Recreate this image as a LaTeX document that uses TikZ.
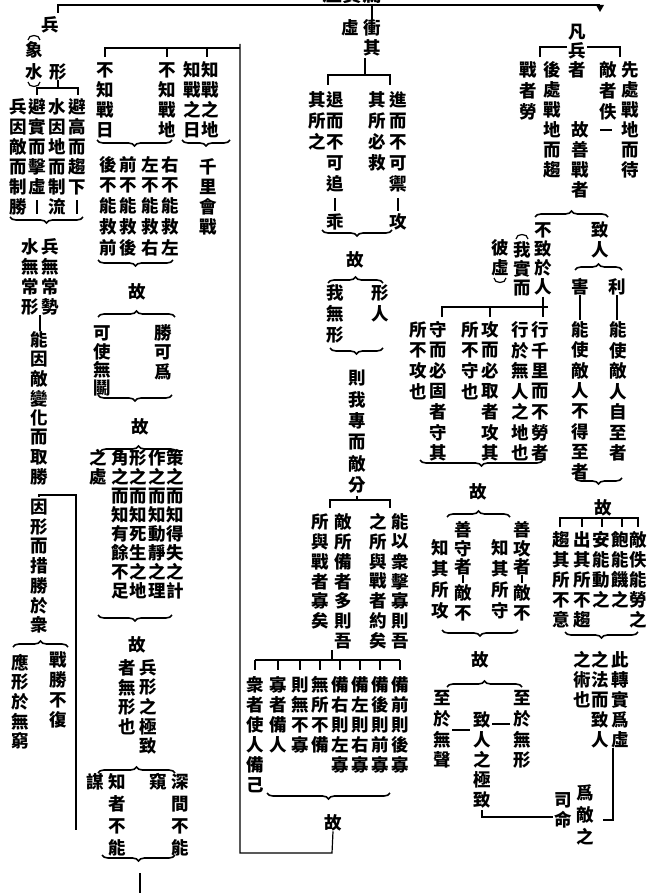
\documentclass[tikz,border=0pt]{standalone}
\usepackage{fontspec}
\setmainfont{Noto Sans CJK TC}
\usetikzlibrary{decorations.pathreplacing}
\makeatletter
\newcommand\vstack[2]{\vbox{\offinterlineskip\@tfor\vs@c:=#2\do{\hbox to 18pt{\hss\vbox to #1pt{\vss\hbox{\vs@c}\vss}\hss}}}}
\makeatother
\newcommand\VC[5][20]{\node[vtext, anchor=north] (#2) at (#3, {#4-#1/2}) {\vstack{#1}{#5}};}
\newcommand\BD[3]{\draw[br] (#2,#3) -- (#1,#3);}
\newcommand\BU[3]{\draw[br] (#1,#3) -- (#2,#3);}
\begin{document}
\begin{tikzpicture}[x=1pt,y=-1pt, line width=1.2pt,
  vtext/.style={inner sep=0pt, outer sep=0pt, font=\fontsize{17.5}{17.5}\selectfont\bfseries},
  every node/.style={inner sep=0pt, outer sep=0pt, font=\fontsize{17.5}{17.5}\selectfont\bfseries},
  br/.style={decorate, decoration={brace, amplitude=6pt}, line width=1.6pt}]
\useasboundingbox[fill=white] (0,0) rectangle (649,893);
% top
\draw (58,13)--(58,5)--(600,5);
\fill (596,5)--(604,5)--(600,12)--cycle;
\node[anchor=south, font=\fontsize{20}{20}\selectfont\bfseries] (title) at (352,4) {虛實篇};
% left section
\node (bing) at (50,25) {兵};
\node (xing) at (58,72) {形};
\VC[22]{xs}{34}{50}{象水}
\draw (28,40) .. controls (28,34) and (40,34) .. (40,40);
\draw (28,82) .. controls (28,88) and (40,88) .. (40,82);
\draw (xing.south) -- (58,88);
\draw (37,95)--(37,88)--(78,88)--(78,95);
\VC{c1}{77}{107}{避高而趨下}
\draw (77,200)--(77,214);
\VC{c2}{57}{107}{水因地而制流}
\VC{c3}{37}{107}{避實而擊虛}
\draw (37,200)--(37,214);
\VC{c4}{18}{107}{兵因敵而制勝}
\BD{10}{83}{217}
\VC{c5}{50}{247}{兵無常勢}
\VC{c6}{30}{247}{水無常形}
\draw (40,315)--(40,331);
\VC[19.5]{c7}{39}{340}{能因敵變化而取勝}
\VC[19.7]{c8}{39}{507}{因形而措勝於衆}
\draw (c8.north) -- (39,495) -- (76,495) -- (76,830);
\BU{13}{68}{647}
\VC{c9}{58}{660}{戰勝不復}
\VC[19.5]{c10}{20}{663}{應形於無窮}
% column 2
\draw (105,57)--(105,48)--(240,48);
\draw (167,48)--(167,57);
\draw (207,48)--(207,57);
\VC{d1}{105}{70}{不知戰日}
\VC{d2}{167}{70}{不知戰地}
\VC{d3}{192}{70}{知戰之日}
\VC{d4}{210}{70}{知戰之地}
\BD{97}{172}{140}
\BD{182}{230}{140}
\VC{d5}{208}{167}{千里會戰}
\VC[20.7]{d6}{170}{165}{右不能救左}
\VC[20.7]{d7}{150}{165}{左不能救右}
\VC[20.7]{d8}{128}{165}{前不能救後}
\VC[20.7]{d9}{108}{165}{後不能救前}
\BD{98}{173}{260}
\node (g1) at (137,292) {故};
\BU{98}{175}{317}
\VC[19.5]{d10}{163}{333}{勝可爲}
\VC[18.5]{d11}{102}{333}{可使無鬭}
\BD{98}{172}{395}
\node (g2) at (140,427) {故};
\BU{100}{177}{452}
\VC[19]{d12}{175}{458}{策之而知得失之計}
\VC[19]{d13}{157}{458}{作之而知動靜之理}
\VC[19]{d14}{138}{458}{形之而知死生之地}
\VC[19]{d15}{120}{458}{角之而知有餘不足}
\VC[19]{d16}{98}{458}{之處}
\BD{98}{172}{615}
\node (g3) at (137,645) {故};
\VC[19.5]{d17}{148}{668}{兵形之極致}
\VC[19.5]{d18}{127}{668}{者無形也}
\BU{98}{175}{773}
\VC[22]{d19}{180}{782}{深間不能}
\node (d20) at (158,782) {窺};
\VC[22]{d21}{117}{782}{知者不能}
\node (d22) at (95,782) {謀};
\BD{102}{175}{855}
\draw (140,873)--(140,893);
% middle
\node (m1) at (372,28) {衝};
\node (m2) at (372,48) {其};
\node (m3) at (350,28) {虛};
\draw (372,5)--(m1.north);
\draw (365,58)--(365,75);
\draw (328,85)--(328,75)--(390,75)--(390,85);
\VC[21]{e1}{335}{100}{退而不可追}
\draw (335,198)--(335,211);
\node (e2) at (335,222) {乖};
\VC[21]{e3}{317}{100}{其所之}
\VC[21]{e4}{398}{100}{進而不可禦}
\draw (398,198)--(398,211);
\node (e5) at (398,222) {攻};
\VC[21]{e6}{377}{100}{其所必救}
\BD{322}{392}{230}
\node (g4) at (355,260) {故};
\BU{328}{383}{283}
\VC[21]{e7}{380}{293}{形人}
\VC[21]{e8}{335}{293}{我無形}
\BD{330}{383}{348}
\VC[21.5]{e9}{357}{378}{則我專而敵分}
\draw (e9.south)--(357,500);
\draw (330,508)--(330,500)--(390,500)--(390,508);
\VC[19.8]{e10}{400}{522}{能以衆擊寡則吾}
\VC[19.8]{e11}{378}{522}{之所與戰者約矣}
\VC[19.8]{e12}{343}{522}{敵所備者多則吾}
\VC[19.8]{e13}{320}{522}{所與戰者寡矣}
\draw (332,650)--(332,660);
\draw (255,660)--(400,660);
\foreach \x in {255,278,300,320,340,360,380,400} \draw (\x,660)--(\x,670);
\VC{f1}{400}{685}{備前則後寡}
\VC{f2}{380}{685}{備後則前寡}
\VC{f3}{360}{685}{備左則右寡}
\VC{f4}{340}{685}{備右則左寡}
\VC{f5}{320}{685}{無所不備}
\VC{f6}{300}{685}{則無不寡}
\VC{f7}{278}{685}{寡者備人}
\VC{f8}{255}{685}{衆者使人備己}
\BD{267}{390}{793}
\node (g5) at (333,823) {故};
\draw (240,44)--(240,853)--(332,853)--(g5.south);
% right
\VC[19]{r1}{577}{32}{凡兵者}
\draw (567,47)--(540,47)--(540,57);
\draw (587,47)--(620,47)--(620,57);
\VC{r2}{552}{70}{後處戰地而趨}
\VC[21]{r3}{528}{70}{戰者勞}
\VC{r4}{630}{70}{先處戰地而待}
\VC[21]{r5}{608}{70}{敵者佚}
\draw (600,130)--(612,130);
\VC{r6}{580}{130}{故善戰者}
\BU{535}{608}{217}
\VC[19]{r7}{543}{230}{不致於人}
\VC[19]{r8}{522}{250}{我實而}
\VC[20]{r9}{500}{248}{彼虛}
\draw (516,239) .. controls (516,233) and (528,233) .. (528,239);
\draw (494,278) .. controls (494,284) and (506,284) .. (506,278);
\VC{r10}{600}{230}{致人}
\BU{575}{622}{270}
\node (r11) at (580,287) {害};
\node (r12) at (617,287) {利};
\draw (r11.south)--(580,320);
\draw (r12.south)--(617,320);
\draw (r7.south)--(543,317);
\draw (442,317)--(442,307)--(548,307);
\draw (490,307)--(490,317);
\VC[20.5]{r13}{540}{330}{行千里而不勞者}
\VC[20.5]{r14}{520}{330}{行於無人之地也}
\VC[20.5]{r15}{490}{330}{攻而必取者攻其}
\VC[20.5]{r16}{470}{330}{所不守也}
\VC[20.5]{r17}{438}{330}{守而必固者守其}
\VC[20.5]{r18}{418}{330}{所不攻也}
\BD{420}{543}{460}
\node (g6) at (478,492) {故};
\VC[20.3]{r19}{580}{330}{能使敵人不得至者}
\VC[20.5]{r20}{618}{330}{能使敵人自至者}
\BD{575}{622}{478}
\node (g7) at (603,508) {故};
\draw (560,527)--(560,518)--(638,518)--(638,527);
\foreach \x in {582,602,622} \draw (\x,518)--(\x,527);
\VC{r21}{638}{540}{敵佚能勞之}
\VC{r22}{620}{540}{飽能饑之}
\VC{r23}{601}{540}{安能動之}
\VC{r24}{582}{540}{出其所不趨}
\VC{r25}{561}{540}{趨其所不意}
\BD{565}{638}{632}
\VC{r26}{620}{660}{此轉實爲虛}
\VC{r27}{600}{660}{之法而致人}
\VC{r28}{582}{660}{之術也}
\draw (613,748)--(613,820)--(603,820);
\VC[22]{r29}{585}{793}{爲敵之}
\VC{r30}{563}{800}{司命}
\BU{447}{510}{517}
\VC[18.5]{r31}{522}{530}{善攻者}
\draw (522,575)--(522,583);
\VC{r32}{522}{593}{敵不}
\VC[21]{r33}{500}{548}{知其所守}
\VC[18.5]{r34}{463}{530}{善守者}
\draw (463,575)--(463,583);
\VC{r35}{463}{593}{敵不}
\VC[21]{r36}{440}{548}{知其所攻}
\BD{442}{518}{630}
\node (g8) at (480,660) {故};
\BU{447}{522}{687}
\VC[20.7]{r37}{522}{698}{至於無形}
\VC[20.7]{r38}{442}{698}{至於無聲}
\VC{r39}{482}{720}{致人之極致}
\draw (452,730)--(470,730);
\draw (492,724)--(510,724);
\draw (r39.south)--(482,817)--(553,817);
\end{tikzpicture}
\end{document}
